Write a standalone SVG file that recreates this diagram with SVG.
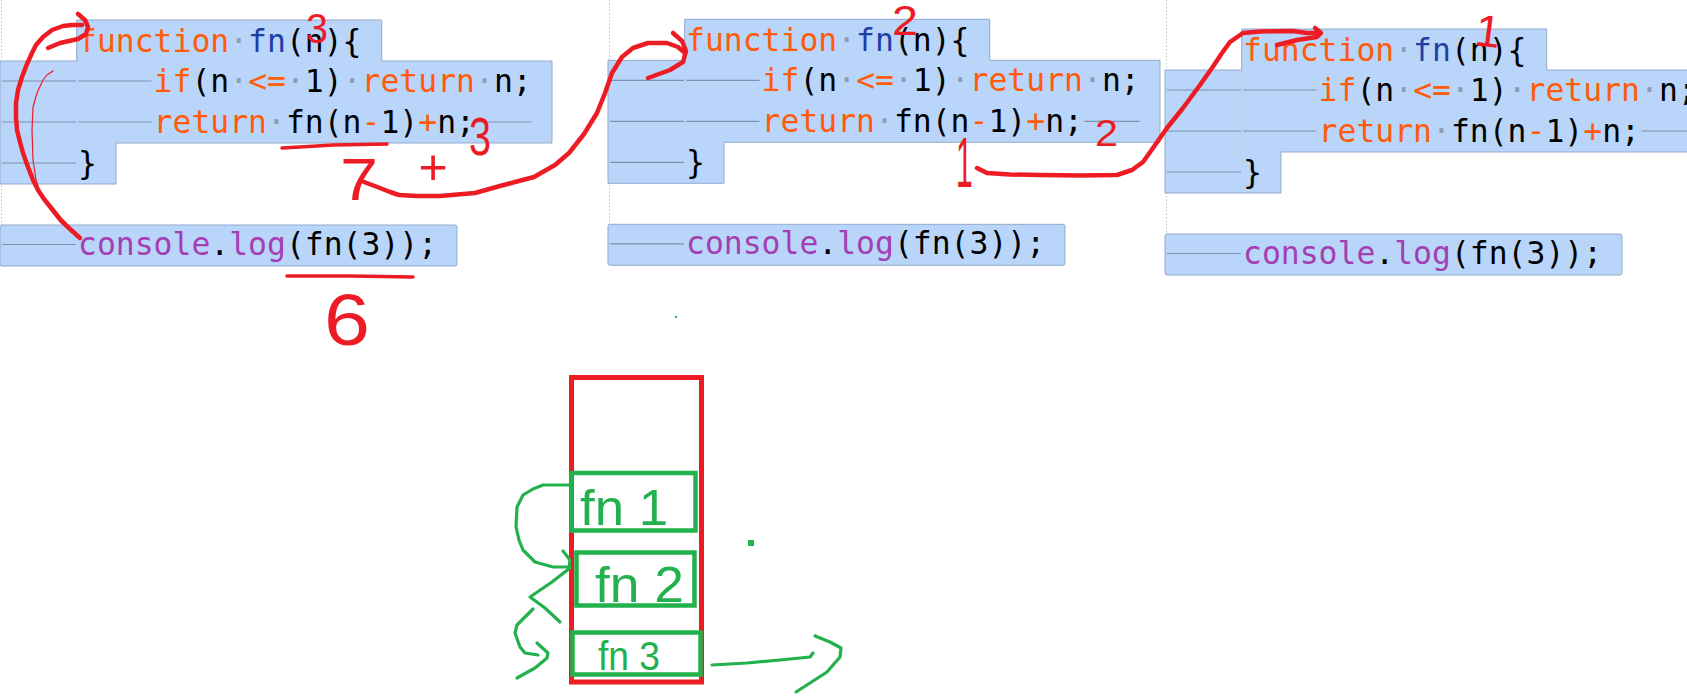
<svg xmlns="http://www.w3.org/2000/svg" width="1687" height="698" viewBox="0 0 1687 698">
<style>
.bg{fill:#fff}
.box{fill:#BAD5FA;stroke:#93A9CB;stroke-width:1;stroke-linejoin:round}
.tab{stroke:#7E90AA;stroke-width:1.2;fill:none}
.guide{stroke:#C4C4C4;stroke-width:1;stroke-dasharray:1.5 2;fill:none}
.code{font-family:"DejaVu Sans Mono","Liberation Mono",monospace;font-size:31.4px;fill:#000}
.k{fill:#FF5B0A}
.f{fill:#1F3FA3}
.p{fill:#A33FB3}
.d{fill:#8E9CB4}
.ink{fill:none;stroke:#ED1C24;stroke-width:4.5;stroke-linecap:round;stroke-linejoin:round}
.thin{stroke-width:1.2}
.hand{font-family:"Liberation Sans","DejaVu Sans",sans-serif;fill:#ED1C24}
.gink{fill:none;stroke:#22B14C;stroke-width:3.2;stroke-linecap:round;stroke-linejoin:round}
.gbox{fill:none;stroke:#22B14C;stroke-width:4.5}
.rbox{fill:none;stroke:#ED1C24;stroke-width:5}
.ghand{font-family:"Liberation Sans","DejaVu Sans",sans-serif;fill:#22B14C}
</style>
<rect class="bg" x="0" y="0" width="1687" height="698"/>

<g id="code-block-1" transform="translate(78,0)">
<path class="guide" d="M-76.5,0V225"/>
<path class="box" d="M-78,61H-1.3V20H303.7V61H474V143H38V184H-78Z"/>
<rect class="box" x="-78" y="225" width="457" height="41" rx="2"/>
<path class="guide" d="M-0.5,62V142"/>
<path class="tab" d="M-76,81H-2M0.5,81H73.5M-76,122H-2M0.5,122H73.5M398.5,122H453.5M-76,163H-2M-76,244.5H-2"/>
<text class="code" x="0" y="51.5"><tspan class="k">function</tspan><tspan class="d">·</tspan><tspan class="f">fn</tspan>(n){</text>
<text class="code" x="75.6" y="92.2"><tspan class="k">if</tspan>(n<tspan class="d">·</tspan><tspan class="k">&lt;=</tspan><tspan class="d">·</tspan>1)<tspan class="d">·</tspan><tspan class="k">return</tspan><tspan class="d">·</tspan>n;</text>
<text class="code" x="75.6" y="132.9"><tspan class="k">return</tspan><tspan class="d">·</tspan>fn(n<tspan class="k">-</tspan>1)<tspan class="k">+</tspan>n;</text>
<text class="code" x="0" y="173.6">}</text>
<text class="code" x="0" y="255"><tspan class="p">console</tspan>.<tspan class="p">log</tspan>(fn(3));</text>
</g>

<g id="code-block-2" transform="translate(686,-0.7)">
<path class="guide" d="M-76.5,0V225"/>
<path class="box" d="M-78,61H-1.3V20H303.7V61H474V143H38V184H-78Z"/>
<rect class="box" x="-78" y="225" width="457" height="41" rx="2"/>
<path class="guide" d="M-0.5,62V142"/>
<path class="tab" d="M-76,81H-2M0.5,81H73.5M-76,122H-2M0.5,122H73.5M398.5,122H453.5M-76,163H-2M-76,244.5H-2"/>
<text class="code" x="0" y="51.5"><tspan class="k">function</tspan><tspan class="d">·</tspan><tspan class="f">fn</tspan>(n){</text>
<text class="code" x="75.6" y="92.2"><tspan class="k">if</tspan>(n<tspan class="d">·</tspan><tspan class="k">&lt;=</tspan><tspan class="d">·</tspan>1)<tspan class="d">·</tspan><tspan class="k">return</tspan><tspan class="d">·</tspan>n;</text>
<text class="code" x="75.6" y="132.9"><tspan class="k">return</tspan><tspan class="d">·</tspan>fn(n<tspan class="k">-</tspan>1)<tspan class="k">+</tspan>n;</text>
<text class="code" x="0" y="173.6">}</text>
<text class="code" x="0" y="255"><tspan class="p">console</tspan>.<tspan class="p">log</tspan>(fn(3));</text>
</g>

<g id="code-block-3" transform="translate(1243,9)">
<path class="guide" d="M-76.5,-9V225"/>
<path class="box" d="M-78,61H-1.3V20H303.7V61H474V143H38V184H-78Z"/>
<rect class="box" x="-78" y="225" width="457" height="41" rx="2"/>
<path class="guide" d="M-0.5,62V142"/>
<path class="tab" d="M-76,81H-2M0.5,81H73.5M-76,122H-2M0.5,122H73.5M398.5,122H453.5M-76,163H-2M-76,244.5H-2"/>
<text class="code" x="0" y="51.5"><tspan class="k">function</tspan><tspan class="d">·</tspan><tspan class="f">fn</tspan>(n){</text>
<text class="code" x="75.6" y="92.2"><tspan class="k">if</tspan>(n<tspan class="d">·</tspan><tspan class="k">&lt;=</tspan><tspan class="d">·</tspan>1)<tspan class="d">·</tspan><tspan class="k">return</tspan><tspan class="d">·</tspan>n;</text>
<text class="code" x="75.6" y="132.9"><tspan class="k">return</tspan><tspan class="d">·</tspan>fn(n<tspan class="k">-</tspan>1)<tspan class="k">+</tspan>n;</text>
<text class="code" x="0" y="173.6">}</text>
<text class="code" x="0" y="255"><tspan class="p">console</tspan>.<tspan class="p">log</tspan>(fn(3));</text>
</g>

<g id="call-stack">
<rect id="stack-frame" class="rbox" x="571.5" y="377.5" width="130" height="304.5"/>
<g id="frame-fn1">
<rect class="gbox" x="571.5" y="473" width="124" height="57.5"/>
<text class="ghand" x="580" y="525" font-size="50" textLength="88" lengthAdjust="spacingAndGlyphs">fn 1</text>
</g>
<g id="frame-fn2">
<rect class="gbox" x="576.5" y="552.5" width="118" height="53"/>
<text class="ghand" x="595" y="602" font-size="50" textLength="89" lengthAdjust="spacingAndGlyphs">fn 2</text>
</g>
<g id="frame-fn3">
<rect class="gbox" x="572.5" y="632.5" width="128" height="42"/>
<text class="ghand" x="598" y="670" font-size="40" textLength="62" lengthAdjust="spacingAndGlyphs">fn 3</text>
</g>
</g>

<g id="annotations-text">
<text class="hand" x="306" y="43" font-size="42" textLength="22" lengthAdjust="spacingAndGlyphs">3</text>
<text class="hand" x="469" y="155" font-size="53" textLength="22" lengthAdjust="spacingAndGlyphs">3</text>
<text class="hand" x="340" y="200" font-size="60" textLength="38" lengthAdjust="spacingAndGlyphs">7</text>
<text class="hand" x="418.4" y="184" font-size="50">+</text>
<text class="hand" x="324" y="345" font-size="72" textLength="46" lengthAdjust="spacingAndGlyphs">6</text>
<text class="hand" x="892" y="35" font-size="42" textLength="26" lengthAdjust="spacingAndGlyphs">2</text>
<text class="hand" x="1095" y="146" font-size="36" textLength="23" lengthAdjust="spacingAndGlyphs">2</text>
<text class="hand" x="-3.4" y="0" font-size="50" text-anchor="middle" transform="translate(966.5,187) scale(0.6,1.4)">1</text>
<text class="hand" x="1488" y="47" font-size="45" text-anchor="middle" transform="rotate(7 1491 31)">1</text>
</g>

<g id="connectors">
<path class="ink" d="M82,25 L72,25 L63,26 L52,30 L43,37 L36,45 L32,53 L27,64 L22,77 L18,90 L16,103 L16,117 L17,130 L20,142 L23,153 L28,167 L33,180 L38,190 L44,199 L52,209 L60,219 L70,229 L80,238"/>
<path class="ink" d="M78,14 L85,20 L88,27 L86,34 L78,39 L60,43 L48,48"/>
<path class="ink thin" d="M53,71 L47,75 L43,80 L37,93 L33,107 L32,130 L33,160 L36,180 L40,192 L46,204 L60,222 L77,237"/>
<path class="ink" style="stroke-width:3.5" d="M282,148 L300,147 L333,145 L387,144"/>
<path class="ink" d="M364,182 L372,185 L380,188 L390,192 L399,195 L417,196 L440,196 L475,193 L500,186 L534,177 L555,165 L569,153 L584,134 L597,113 L605,93 L612,73 L622,57 L633,48 L648,43 L667,43 L678,47 L685,53"/>
<path class="ink" d="M673,33 L682,41 L686,51 L683,62 L670,70 L648,78"/>
<path class="ink" style="stroke-width:3.5" d="M287,276 L350,276 L413,277"/>
<path class="ink" d="M977,168 L987,173 L1010,174.5 L1040,175 L1080,175.5 L1117,175 L1132,170 L1143,162 L1153,148 L1167,128 L1183,108 L1200,85 L1212,68 L1222,53 L1230,42 L1243,33 L1260,31.5 L1293,31 L1307,33 L1320,33"/>
<path class="ink" d="M1315,28 L1321,33 L1317,37 L1297,40 L1277,45"/>
<path class="gink" d="M569,485 L543,485 L533,489 L523,495 L517,507 L516,527 L519,540 L523,550 L535,562 L553,567 L570,567"/>
<path class="gink" d="M563,551 L570,560 L569,568"/>
<path class="gink" d="M570,568 L552,582 L530,597 L545,608 L560,622"/>
<path class="gink" d="M533,609 L517,625 L515,633 L520,647 L525,653 L538,655"/>
<path class="gink" d="M537,643 L548,653 L547,658 L535,668 L517,678"/>
<path class="gink" d="M712,665 L747,663 L780,660 L810,657 L813,653"/>
<path class="gink" d="M815,636 L830,642 L841,648 L840,657 L827,672 L810,683 L796,692"/>
<rect x="748" y="540" width="6" height="6" fill="#22B14C"/>
<rect x="675" y="316" width="2" height="2" fill="#22B14C"/>
</g>
</svg>
